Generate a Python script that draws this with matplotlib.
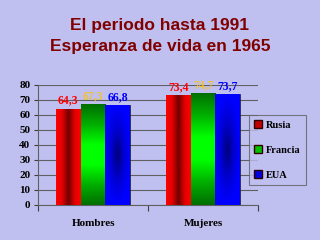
import numpy as np
import matplotlib
matplotlib.use("Agg")
import matplotlib.pyplot as plt
from matplotlib.colors import LinearSegmentedColormap
from matplotlib.patches import Patch

categories = ["Hombres", "Mujeres"]
series = ["Rusia", "Francia", "EUA"]
rusia = [64.3, 73.4]
francia = [67.3, 74.7]
eua = [66.8, 73.7]
values = [rusia, francia, eua]
label_colors = ["#FF0000", "#F0C030", "#0000FF"]
base_colors = ["#FF0000", "#00C000", "#0000FF"]

bg = "#C0C0F0"
fig = plt.figure(figsize=(3.2, 2.4), dpi=100, facecolor=bg)
ax = fig.add_axes([0.119, 0.146, 0.6875, 0.5], facecolor=bg)

fig.text(0.5, 0.895, "El periodo hasta 1991", ha="center", va="center",
         color="#800000", fontsize=12.5, fontweight="bold", family="Liberation Sans")
fig.text(0.5, 0.805, "Esperanza de vida en 1965", ha="center", va="center",
         color="#800000", fontsize=12.5, fontweight="bold", family="Liberation Sans")

# gradient fills per series
n = 64
t = np.linspace(0, 1, n)
red_cmap = LinearSegmentedColormap.from_list("r", ["#FF0000", "#E00000", "#700000", "#E00000", "#FF0000"])
green_cmap = LinearSegmentedColormap.from_list("g", ["#007000", "#00B000", "#00FF00", "#00FF00", "#00B000", "#007000"])
blue_cmap = LinearSegmentedColormap.from_list("b", ["#0000FF", "#0000D0", "#000080"])
xx, yy = np.meshgrid(t, t)
grads = [
    (np.tile(t, (n, 1)), red_cmap),
    (np.tile(t[:, None], (1, n)), green_cmap),
    (np.clip(1 - np.sqrt(((xx - 0.5) / 0.5) ** 2 + ((yy - 0.5) / 0.5) ** 2), 0, 1), blue_cmap),
]

x = np.arange(len(categories))
w = 0.225
for i, vals in enumerate(values):
    pos = x + (i - 1) * w
    bars = ax.bar(pos, vals, width=w, color=base_colors[i], edgecolor="#202020",
                  linewidth=0.5, zorder=3)
    for b, v in zip(bars, vals):
        g, cm = grads[i]
        im = ax.imshow(g, cmap=cm, extent=[b.get_x(), b.get_x() + w, 0, v],
                       aspect="auto", origin="lower", zorder=3.5)
        im.set_clip_path(b)
        ax.annotate(f"{v:.1f}".replace(".", ","), (b.get_x() + w / 2, v),
                    xytext=(0, 1.5), textcoords="offset points", ha="center",
                    va="bottom", color=label_colors[i], fontsize=8.5,
                    fontweight="bold", family="Liberation Serif")

ax.set_xlim(-0.5, 1.5)
ax.set_ylim(0, 80)
ax.set_yticks(range(0, 81, 10))
ax.set_xticks([-0.5, 0.5, 1.5])
ax.set_xticklabels([])
ax.set_xticks(x, minor=True)
ax.set_xticklabels(categories, minor=True)
ax.tick_params(axis="x", which="minor", length=0, pad=10)
ax.tick_params(axis="x", which="major", length=4, direction="out", color="#404040")
ax.tick_params(axis="y", length=3, direction="out", color="#404040", pad=2.5)
for lab in ax.get_xticklabels(minor=True) + ax.get_yticklabels():
    lab.set_fontfamily("Liberation Serif")
    lab.set_fontweight("bold")
    lab.set_fontsize(8)
ax.yaxis.grid(True, color="#606060", linewidth=0.8, zorder=0)
ax.set_axisbelow(True)
for s in ["top", "right"]:
    ax.spines[s].set_visible(False)
for s in ["left", "bottom"]:
    ax.spines[s].set_color("#606060")

handles = [Patch(facecolor=c, edgecolor="#300000") for c in ["#C00000", "#00C000", "#0000E0"]]
leg = fig.legend(handles, series, loc="center", bbox_to_anchor=(0.867, 0.375),
                 frameon=True, fancybox=False, edgecolor="#606060", facecolor=bg,
                 handlelength=0.7, handleheight=0.7, handletextpad=0.4,
                 labelspacing=1.5, borderpad=0.5, borderaxespad=0,
                 prop={"family": "Liberation Serif", "weight": "bold", "size": 7.5})
leg.get_frame().set_linewidth(0.8)

fig.savefig("out.png", dpi=100, facecolor=bg)
